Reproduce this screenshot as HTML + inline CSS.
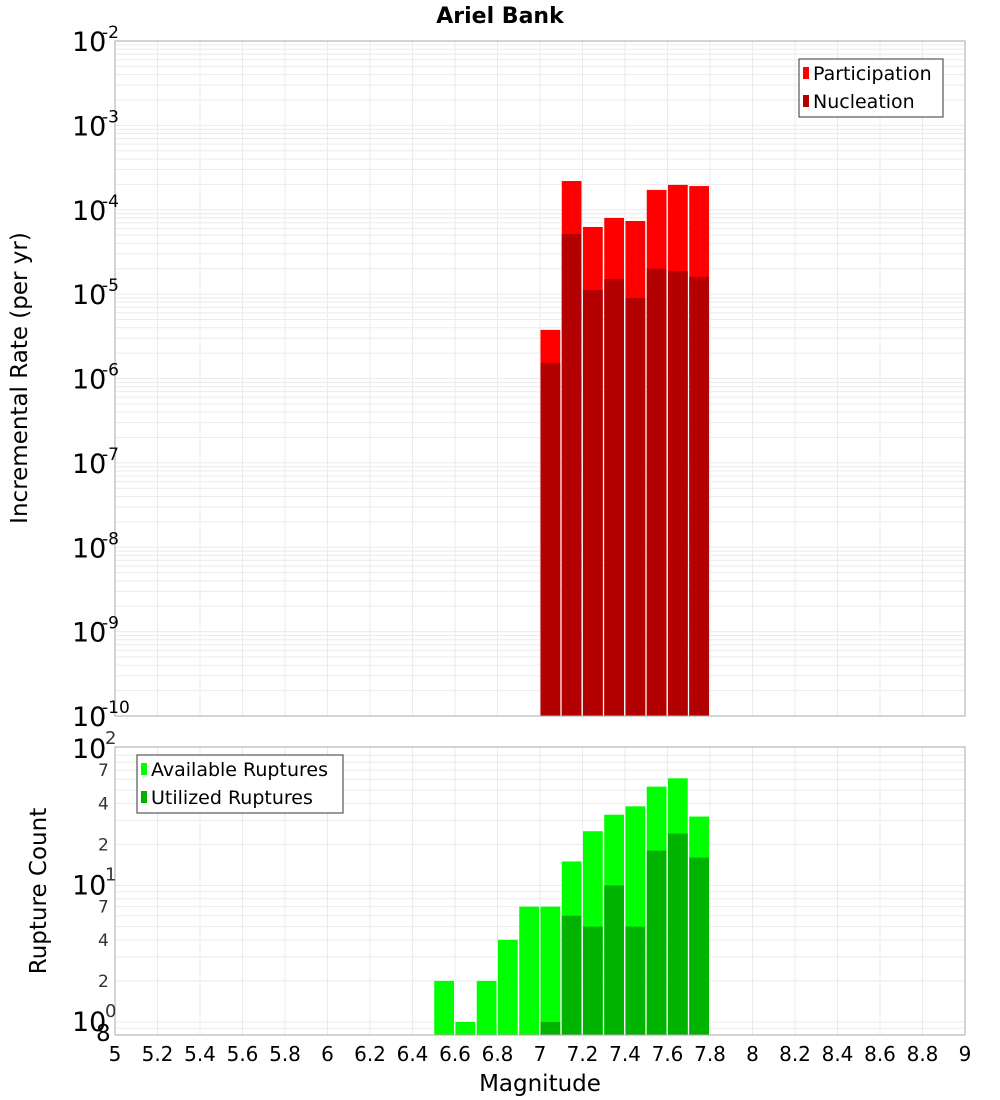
<!DOCTYPE html>
<html><head><meta charset="utf-8"><style>
body{margin:0;background:#fff;}
svg{display:block;font-family:"DejaVu Sans","Liberation Sans",sans-serif;}
</style></head><body>
<svg id="c" width="1000" height="1100"></svg>
<script>
const mags=[7.0,7.1,7.2,7.3,7.4,7.5,7.6,7.7];
const participation=[3.77e-6,2.19e-4,6.25e-5,8.0e-5,7.36e-5,1.72e-4,1.97e-4,1.91e-4];
const nucleation=[1.53e-6,5.16e-5,1.12e-5,1.51e-5,9.0e-6,2.0e-5,1.88e-5,1.6e-5];
const cmags=[6.5,6.6,6.7,6.8,6.9,7.0,7.1,7.2,7.3,7.4,7.5,7.6,7.7];
const available=[2,1,2,4,7,7,15,25,33,38,53,61,32];
const utilized=[0,0,0,0,0,1,6,5,10,5,18,24,16];
const xTicks=[5,5.2,5.4,5.6,5.8,6,6.2,6.4,6.6,6.8,7,7.2,7.4,7.6,7.8,8,8.2,8.4,8.6,8.8,9];
const topExps=[-2,-3,-4,-5,-6,-7,-8,-9,-10];

const NS="http://www.w3.org/2000/svg";
const svg=document.getElementById('c');
function mk(t,a,p){const e=document.createElementNS(NS,t);for(const k in a)e.setAttribute(k,a[k]);(p||svg).appendChild(e);return e;}
const L=115,R=965;
const X=m=>L+(m-5)/4*(R-L);
const T0=41,T1=716;
const Yt=v=>T0+(-2-Math.log10(v))*(T1-T0)/8;
const B0=747,B1=1035,Bd=136.5;
const Yb=v=>B0+2+(2-Math.log10(v))*Bd;

const gTop=mk('g',{});


for(let e=-10;e<-2;e++){for(let k=1;k<10;k++){const y=Yt(k*Math.pow(10,e));if(y<T0||y>T1)continue;mk('line',{x1:L,x2:R,y1:y,y2:y,stroke:'#ebebeb','stroke-width':1},gTop);}}
xTicks.forEach(t=>{mk('line',{x1:X(t),x2:X(t),y1:T0,y2:T1,stroke:'#ebebeb'},gTop);});
const gBot=mk('g',{});


for(let e=-1;e<2;e++){for(let k=1;k<10;k++){const y=Yb(k*Math.pow(10,e));if(y<B0||y>B1)continue;mk('line',{x1:L,x2:R,y1:y,y2:y,stroke:'#ebebeb'},gBot);}}
xTicks.forEach(t=>{mk('line',{x1:X(t),x2:X(t),y1:B0,y2:B1,stroke:'#ebebeb'},gBot);});

const w=X(5.1)-X(5);
mags.forEach((m,i)=>{
 const r=mk('rect',{x:X(m)+0.5,y:Yt(participation[i]),width:w-1.5,height:T1-Yt(participation[i]),fill:'#ff0000'});
 
 
 const n=mk('rect',{x:X(m)+0.5,y:Yt(nucleation[i]),width:w-1.5,height:T1-Yt(nucleation[i]),fill:'#b30000'});
 
 
});
cmags.forEach((m,i)=>{
 const y=Yb(available[i]);
 const r=mk('rect',{x:X(m)+0.5,y:y,width:w-1.5,height:B1-y,fill:'#00ff00'});
 
 
 if(utilized[i]>0){const y2=Yb(utilized[i]);
 const u=mk('rect',{x:X(m)+0.5,y:y2,width:w-1.5,height:B1-y2,fill:'#00b300'});
 
 }
});
const f1=mk('rect',{x:L,y:T0,width:R-L,height:T1-T0,fill:'none',stroke:'#aaa'});


const f2=mk('rect',{x:L,y:B0,width:R-L,height:B1-B0,fill:'none',stroke:'#aaa'});



topExps.forEach(e=>{
 const y=Yt(Math.pow(10,e));
 const t=mk('text',{x:72,y:y+10,'font-size':27,fill:'#000'});
 t.textContent='10';
 
 
 const s=mk('text',{x:102,y:y-3,'font-size':17,fill:'#000'});
 s.textContent=String(e);
 
 
});
[[2,'2'],[1,'1'],[0,'0']].forEach(([e,s])=>{
 const y=Yb(Math.pow(10,e));
 const t=mk('text',{x:72,y:y+9,'font-size':27});t.textContent='10';
 
 
 const u=mk('text',{x:105,y:y-5,'font-size':18,fill:'#333'});u.textContent=s;
 
 
});
[70,40,20,7,4,2,0.8].forEach(v=>{
 const y=Yb(v);
 const t=mk('text',{x:v<1?96:98,y:y+6,'font-size':v<1?23:17,fill:v<1?'#000':'#333'});
 t.textContent=String(v<1?8:(v>=10?v/10:v));
 
 
});
xTicks.forEach(v=>{
 const t=mk('text',{x:X(v),y:1061,'font-size':20,'text-anchor':'middle'});
 t.textContent=String(v);
 
 
});
const ti=mk('text',{x:500,y:23,'font-size':22,'font-weight':'bold','text-anchor':'middle'});ti.textContent='Ariel Bank';

const xt=mk('text',{x:540,y:1091,'font-size':23,'text-anchor':'middle'});xt.textContent='Magnitude';

const yt=mk('text',{x:0,y:0,'font-size':23,'text-anchor':'middle',transform:'translate(27,378) rotate(-90)'});yt.textContent='Incremental Rate (per yr)';

const yb=mk('text',{x:0,y:0,'font-size':23,'text-anchor':'middle',transform:'translate(46,891) rotate(-90)'});yb.textContent='Rupture Count';


function legend(x,y,wd,items,name){
 const g=mk('g',{});
 
 
 mk('rect',{x:x,y:y,width:wd,height:58,fill:'#fff',stroke:'#333'},g);
 items.forEach((it,i)=>{
  mk('rect',{x:x+4,y:y+8+i*28,width:6,height:12,fill:it[1]},g);
  const t=mk('text',{x:x+14,y:y+21+i*28,'font-size':19},g);t.textContent=it[0];
  
  
 });
}
legend(799,59,144,[['Participation','#ff0000'],['Nucleation','#b30000']],'top-legend');
legend(137,755,206,[['Available Ruptures','#00ff00'],['Utilized Ruptures','#00b300']],'bottom-legend');
</script>
</body></html>
